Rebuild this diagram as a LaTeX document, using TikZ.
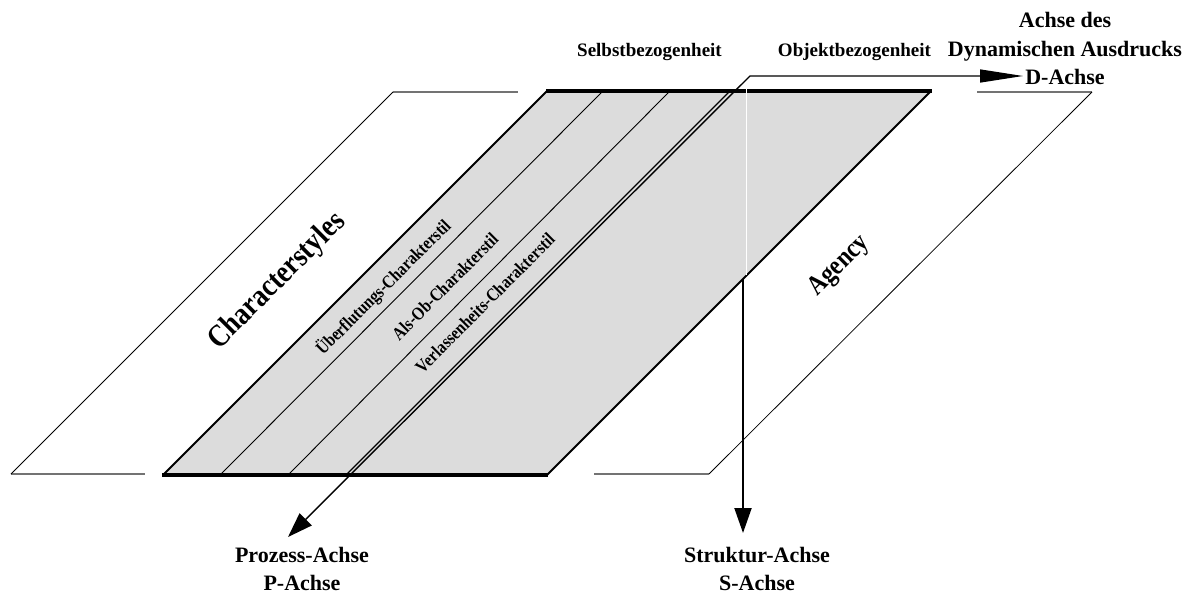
\documentclass[tikz,border=0pt]{standalone}
\usepackage{fontspec}
\setmainfont{Liberation Serif}
\newfontfamily\narrowserif[FakeStretch=0.85]{Liberation Serif}
\usetikzlibrary{arrows.meta}
\definecolor{panelgray}{HTML}{DCDCDC}
\definecolor{rimgray}{HTML}{737373}
\begin{document}
\begin{tikzpicture}[x=1pt,y=-1pt,
  rim/.style={draw=rimgray, line width=1.3pt},
  slant/.style={draw=black, line width=0.8pt},
  heavyedge/.style={draw=black, line width=3.4pt},
  sideedge/.style={draw=black, line width=2pt},
  divider/.style={draw=black, line width=0.9pt},
  axislbl/.style={font=\bfseries\fontsize{22}{28.5}\selectfont, align=center, inner sep=0pt},
  toplbl/.style={font=\bfseries\fontsize{19}{23}\selectfont, inner sep=0pt},
  planelbl/.style={rotate=45, inner sep=0pt},
  stripelbl/.style={rotate=45, inner sep=0pt, font=\narrowserif\bfseries\fontsize{18.2}{21}\selectfont}
]
\useasboundingbox (0,0) rectangle (1194,594);

% left plane (outline only)
\draw[rim] (11,474) -- (145,474);
\draw[rim] (393,92) -- (518,92);
\draw[slant] (11,474) -- (393,92);

% right plane (outline only)
\draw[rim] (594,474) -- (709,474);
\draw[rim] (977,92) -- (1092,92);
\draw[slant] (709,474) -- (1092,92);

% central shaded plane
\fill[panelgray] (163,475) -- (547,475) -- (931,91) -- (547,91) -- cycle;
\draw[divider] (220,475) -- (603,91);
\draw[divider] (288,475) -- (670,91);
\draw[divider, line width=1.2pt] (346,475) -- (730,91);
\draw[sideedge] (163,475) -- (547,91);
\draw[sideedge] (547,475) -- (931,91);
\draw[heavyedge] (162,475) -- (548,475);
\draw[heavyedge] (546,91) -- (932,91);

% white split through the plane
\draw[white, line width=1.2pt] (746.5,88) -- (746.5,274.5);

% axis end points
\coordinate (corner) at (750,76);
\coordinate (dtip) at (1023,76);
\coordinate (ptip) at (288,537);
\coordinate (sstart) at (743,279);
\coordinate (stip) at (743,533);

% axes
\draw[line width=2pt, -{Triangle[length=25pt,width=17pt]}] (sstart) -- (stip);
\draw[line width=1.4pt, {Triangle[length=25pt,width=17pt]}-{Triangle[length=43pt,width=13pt]}]
  (ptip) -- (corner) -- (dtip);

% axis labels
\node[axislbl] (plabel) at (302,569) {Prozess-Achse\\P-Achse};
\node[axislbl] (slabel) at (757,569) {Struktur-Achse\\S-Achse};
\node[axislbl] (dlabel) at (1065,48.5) {Achse des\\Dynamischen Ausdrucks\\D-Achse};

% top labels
\node[toplbl] (selbst) at (649.5,52) {Selbstbezogenheit};
\node[toplbl] (objekt) at (854.5,52) {Objektbezogenheit};

% plane labels
\node[planelbl, font=\narrowserif\bfseries\fontsize{31.5}{35}\selectfont] (chars) at (277.5,281.5) {Characterstyles};
\node[planelbl, font=\narrowserif\bfseries\fontsize{27.5}{31}\selectfont] (agency) at (839.5,266) {Agency};

% stripe labels
\node[stripelbl] (ueber) at (383.5,287.5) {Überflutungs-Charakterstil};
\node[stripelbl] (alsob) at (445,286.5) {Als-Ob-Charakterstil};
\node[stripelbl] (verl) at (485,303) {Verlassenheits-Charakterstil};
\end{tikzpicture}
\end{document}
